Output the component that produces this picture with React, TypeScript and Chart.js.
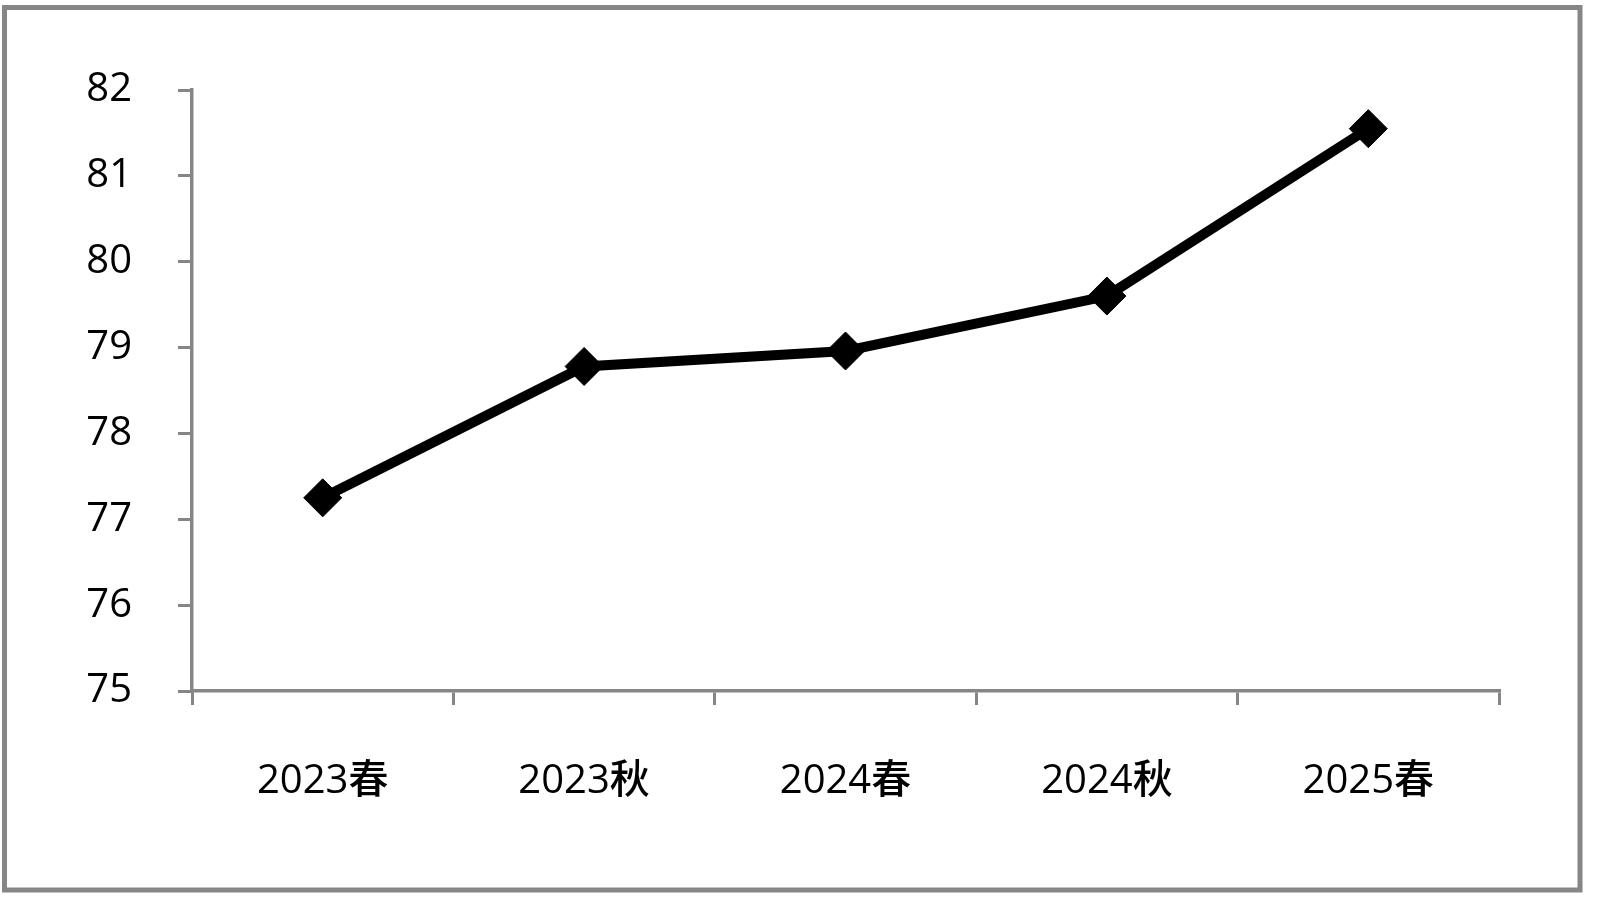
import React, { useEffect, useRef } from "react";
import { Chart, registerables } from "chart.js";

Chart.register(...registerables);

const categories = ["2023春", "2023秋", "2024春", "2024秋", "2025春"];
const scores = [77.25, 78.78, 78.96, 79.6, 81.55];
const yMin = 75;
const yMax = 82;
const yStep = 1;

const FONT = '"Open Sans", "Noto Sans CJK SC", sans-serif';
const AXIS_GRAY = "#868686";

const framePlugin = {
  id: "frame",
  beforeDraw(chart: any) {
    const ctx = chart.ctx;
    ctx.save();
    ctx.fillStyle = "#ffffff";
    ctx.fillRect(0, 0, chart.width, chart.height);
    ctx.strokeStyle = "#868686";
    ctx.lineWidth = 5;
    ctx.strokeRect(4.5, 7.5, 1575.5, 882.5);
    ctx.restore();
  },
};

export default function App() {
  const ref = useRef<HTMLCanvasElement | null>(null);
  useEffect(() => {
    document.body.style.margin = "0";
    const canvas = ref.current!;
    const chart = new Chart(canvas, {
      type: "line",
      data: {
        labels: categories,
        datasets: [
          {
            data: scores,
            borderColor: "#000000",
            backgroundColor: "#000000",
            borderWidth: 10,
            pointStyle: "rectRot",
            pointRadius: 19,
            pointBorderWidth: 1,
            pointBackgroundColor: "#000000",
            pointBorderColor: "#000000",
            tension: 0,
          },
        ],
      },
      options: {
        responsive: false,
        animation: false,
        events: [],
        layout: { padding: { left: 0, top: 90, right: 101, bottom: 0 } },
        plugins: { legend: { display: false }, tooltip: { enabled: false } },
        scales: {
          x: {
            type: "category",
            offset: true,
            grid: {
              display: true,
              offset: true,
              drawOnChartArea: false,
              drawTicks: true,
              tickLength: 14,
              color: AXIS_GRAY,
              lineWidth: 3,
            },
            border: { display: true, color: AXIS_GRAY, width: 3.5 },
            ticks: {
              color: "#000000",
              font: { family: FONT, size: 40, weight: "500" },
              padding: 53,
              maxRotation: 0,
              autoSkip: false,
            },
            afterFit(scale: any) {
              scale.height = 217;
            },
          },
          y: {
            min: yMin,
            max: yMax,
            grid: {
              display: true,
              drawOnChartArea: false,
              drawTicks: true,
              tickLength: 14,
              color: AXIS_GRAY,
              lineWidth: 3,
            },
            border: { display: true, color: AXIS_GRAY, width: 3.5 },
            ticks: {
              stepSize: yStep,
              color: "#000000",
              font: { family: FONT, size: 40, weight: "500" },
              padding: 46,
            },
            afterFit(scale: any) {
              scale.width = 192;
            },
          },
        },
      },
      plugins: [framePlugin],
    });
    return () => chart.destroy();
  }, []);
  return (
    <canvas
      ref={ref}
      width={1600}
      height={908}
      style={{ display: "block", width: "1600px", height: "908px" }}
    />
  );
}
